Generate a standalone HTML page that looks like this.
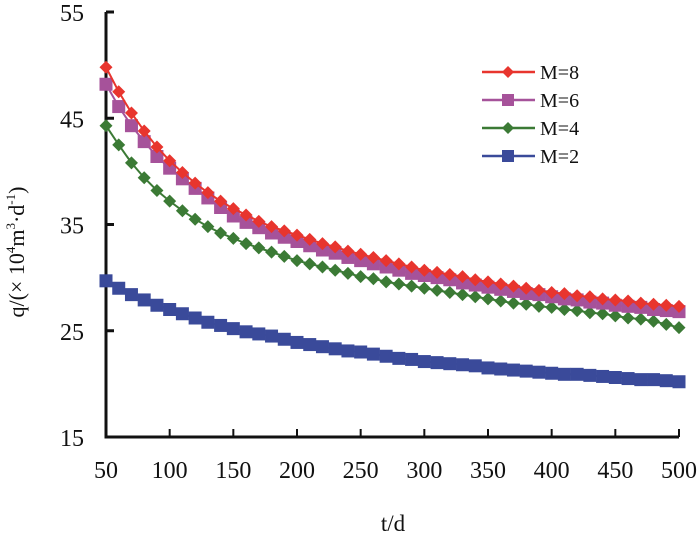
<!DOCTYPE html>
<html><head><meta charset="utf-8"><style>
body{margin:0;background:#fff}
svg{display:block}
text{font-family:"Liberation Serif",serif;fill:#111}
</style></head><body>
<svg id="chart" width="700" height="540">
<g id="axes"></g>
<g id="series"></g>
<g id="legend"></g>
<text x="393" y="531" font-size="23" text-anchor="middle">t/d</text>
<text transform="translate(24,252) rotate(-90)" font-size="22" text-anchor="middle" font-family="Liberation Sans, sans-serif">q/(× 10<tspan dy="-9" font-size="13">4</tspan><tspan dy="9">m</tspan><tspan dy="-9" font-size="13">3</tspan><tspan dy="9">·d</tspan><tspan dy="-9" font-size="13">-1</tspan><tspan dy="9">)</tspan></text>
</svg>
<script>
const xTicks=[50,100,150,200,250,300,350,400,450,500];
const yTicks=[15,25,35,45,55];
const days=[50,60,70,80,90,100,110,120,130,140,150,160,170,180,190,200,210,220,230,240,250,260,270,280,290,300,310,320,330,340,350,360,370,380,390,400,410,420,430,440,450,460,470,480,490,500];
const seriesNames=["M=8","M=6","M=4","M=2"];
const m8=[49.8,47.5,45.5,43.8,42.3,41.0,39.9,38.9,38.0,37.2,36.5,35.9,35.3,34.8,34.4,34.0,33.6,33.2,32.9,32.5,32.2,31.9,31.6,31.3,31.0,30.7,30.5,30.3,30.1,29.8,29.6,29.4,29.2,29.0,28.8,28.6,28.5,28.3,28.2,28.0,27.9,27.8,27.6,27.5,27.4,27.3];
const m6=[48.2,46.1,44.3,42.8,41.4,40.3,39.3,38.4,37.5,36.6,35.8,35.2,34.7,34.2,33.8,33.4,33.0,32.6,32.3,31.9,31.6,31.3,31.0,30.7,30.4,30.2,30.0,29.8,29.5,29.3,29.1,28.9,28.7,28.5,28.4,28.2,28.0,27.9,27.7,27.6,27.4,27.3,27.2,27.0,26.9,26.8];
const m4=[44.3,42.5,40.8,39.4,38.2,37.2,36.3,35.5,34.8,34.2,33.7,33.2,32.8,32.4,32.0,31.6,31.3,31.0,30.7,30.4,30.1,29.9,29.6,29.4,29.2,29.0,28.8,28.6,28.4,28.2,28.0,27.8,27.6,27.5,27.3,27.2,27.0,26.9,26.7,26.6,26.4,26.2,26.1,25.9,25.6,25.3];
const m2=[29.7,29.0,28.4,27.9,27.4,27.0,26.6,26.2,25.8,25.5,25.2,24.9,24.7,24.5,24.2,23.9,23.7,23.5,23.3,23.1,23.0,22.8,22.6,22.4,22.3,22.1,22.0,21.9,21.8,21.7,21.5,21.4,21.3,21.2,21.1,21.0,20.9,20.9,20.8,20.7,20.6,20.5,20.4,20.4,20.3,20.2];

const NS="http://www.w3.org/2000/svg";
const X0=106,X1=679,Y0=437,Y1=12;
const xs=v=>X0+(v-50)/(500-50)*(X1-X0);
const ys=v=>Y0-(v-15)/(55-15)*(Y0-Y1);
function mk(tag,attrs,parent){const e=document.createElementNS(NS,tag);for(const k in attrs)e.setAttribute(k,attrs[k]);parent.appendChild(e);return e;}
const axes=document.getElementById('axes');
let a=mk('path',{d:`M${X0},${Y1} V${Y0} H${X1}`,fill:'none',stroke:'#111','stroke-width':3},axes);


yTicks.forEach(v=>{
 let t=mk('line',{x1:X0,x2:X0+8,y1:ys(v),y2:ys(v),stroke:'#111','stroke-width':3},axes);
 
 
 let l=mk('text',{x:84,y:ys(v)+9,'font-size':24,'text-anchor':'end'},axes);l.textContent=v;
 
 
});
xTicks.forEach(v=>{
 let t=mk('line',{x1:xs(v),x2:xs(v),y1:Y0,y2:Y0-8,stroke:'#111','stroke-width':2},axes);
 
 
 let l=mk('text',{x:xs(v),y:478,'font-size':24,'text-anchor':'middle'},axes);l.textContent=v;
 
 
});
const cfg=[{d:m8,c:'#e8352e',s:'diamond'},{d:m6,c:'#a6529a',s:'square'},{d:m4,c:'#3b7a35',s:'diamond'},{d:m2,c:'#3a4a9a',s:'square'}];
function marker(x,y,c,s,g,sz){
 let e;
 if(s==='diamond'){e=mk('path',{d:`M${x},${y-sz} L${x+sz},${y} L${x},${y+sz} L${x-sz},${y} Z`,fill:c},g);}
 else{e=mk('rect',{x:x-sz,y:y-sz,width:2*sz,height:2*sz,fill:c},g);}
 return e;
}
const sg=document.getElementById('series');
[3,2,1,0].forEach(i=>{
 const c=cfg[i];
 const g=mk('g',{},sg);
 
 
 let p=mk('polyline',{points:days.map((d,j)=>xs(d)+','+ys(c.d[j])).join(' '),fill:'none',stroke:c.c,'stroke-width':2},g);
 
 
 days.forEach((d,j)=>{
  let m=marker(xs(d),ys(c.d[j]),c.c,c.s,g,6.5);
  
  
 });
});
const lg=document.getElementById('legend');
cfg.forEach((c,i)=>{
 const y=72+i*28;
 const g=mk('g',{},lg);
 
 
 mk('line',{x1:482,x2:535,y1:y,y2:y,stroke:c.c,'stroke-width':2.5},g);
 marker(508,y,c.c,c.s,g,6);
 let t=mk('text',{x:540,y:y+7,'font-size':20,'font-family':'Liberation Sans, sans-serif'},g);t.textContent=seriesNames[i];
});
</script>
</body></html>
